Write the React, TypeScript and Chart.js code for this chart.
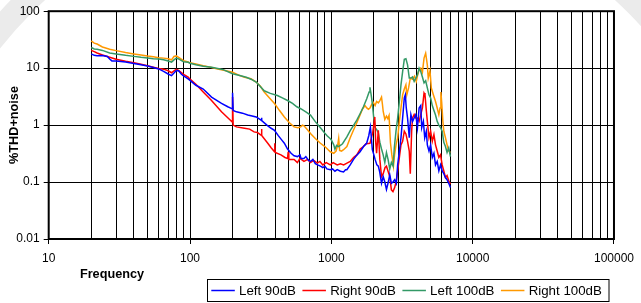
import { useEffect, useRef } from 'react';
import { Chart, registerables } from 'chart.js';

Chart.register(...registerables);

// ---- axis definitions ----
const xDecades = [10, 100, 1000, 10000, 100000];
const xTickLabels = ['10', '100', '1000', '10000', '100000'];
const xGridLines = [
  10, 20, 30, 40, 50, 60, 70, 80, 90,
  100, 200, 300, 400, 500, 600, 700, 800, 900,
  1000, 2000, 3000, 4000, 5000, 6000, 7000, 8000, 9000,
  10000, 20000, 30000, 40000, 50000, 60000, 70000, 80000, 90000,
  100000,
];
const yDecades = [0.01, 0.1, 1, 10, 100];
const yTickLabels = ['0.01', '0.1', '1', '10', '100'];

const xTitle = 'Frequency';
const yTitle = '%THD+noise';

const seriesLabels = ['Left 90dB', 'Right 90dB', 'Left 100dB', 'Right 100dB'];
const seriesColors = ['#0000FF', '#FF0000', '#339966', '#FF9900'];

// ---- data: [frequency Hz, %THD+noise] ----
const left90: [number, number][] = [
  [20, 17.8], [21, 16.8], [22, 16.5], [24, 16.6], [26, 16.0], [27, 14.5], [28, 13.4], [30, 13.4],
  [35, 12.8], [40, 12.1], [45, 11.5], [50, 10.9], [55, 10.3], [60, 9.7], [65, 8.8], [70, 7.9],
  [74, 7.4], [77, 8.2], [80, 9.1], [83, 9.0], [87, 7.8], [90, 7.3], [97, 6.5], [100, 6.1],
  [110, 5.0], [124, 4.3], [142, 3.1], [167, 2.4], [185, 2.1], [199, 1.93], [200, 3.7], [202, 1.8],
  [213, 1.71], [235, 1.62], [256, 1.5], [275, 1.45], [294, 1.39], [318, 1.22], [320, 1.35], [323, 1.2],
  [350, 1.0], [375, 0.88], [396, 0.81], [420, 0.66], [445, 0.55], [465, 0.48], [490, 0.38], [519, 0.32],
  [545, 0.29], [575, 0.28], [600, 0.3], [610, 0.26], [640, 0.26], [660, 0.28], [690, 0.24], [712, 0.23],
  [740, 0.25], [770, 0.21], [800, 0.2], [837, 0.19], [870, 0.18], [900, 0.19], [930, 0.17], [983, 0.165],
  [1020, 0.17], [1060, 0.155], [1100, 0.165], [1160, 0.155], [1220, 0.15], [1260, 0.165], [1288, 0.165],
  [1360, 0.2], [1436, 0.25], [1520, 0.3], [1597, 0.34], [1690, 0.42], [1778, 0.48], [1840, 0.65],
  [1890, 0.93], [1920, 0.6], [1950, 0.37], [2000, 0.3], [2040, 0.25], [2100, 0.2], [2150, 0.19],
  [2200, 0.15], [2265, 0.095], [2327, 0.125], [2390, 0.1], [2455, 0.074], [2530, 0.1], [2590, 0.135],
  [2660, 0.095], [2730, 0.1], [2806, 0.11], [2885, 0.095], [2946, 0.2], [3030, 0.35], [3110, 0.6],
  [3195, 1.33], [3283, 3.0], [3340, 3.4], [3390, 2.0], [3462, 1.33], [3560, 0.6], [3655, 1.53],
  [3755, 1.16], [3855, 1.33], [3960, 1.53], [4067, 0.9], [4180, 2.0], [4293, 2.2], [4360, 0.9],
  [4480, 1.16], [4580, 0.6], [4700, 0.78], [4778, 0.45], [4910, 0.35], [5043, 0.45], [5180, 0.27],
  [5320, 0.32], [5460, 0.2], [5612, 0.23], [5765, 0.157], [5925, 0.2], [6085, 0.157], [6250, 0.14],
  [6420, 0.12], [6590, 0.11], [6775, 0.095], [6960, 0.08],
];

const right90: [number, number][] = [
  [20, 20.5], [21, 19.5], [22, 18.5], [24, 17.0], [27, 15.5], [30, 14.3], [35, 13.2], [40, 12.5],
  [45, 11.7], [50, 11.0], [55, 10.4], [60, 9.9], [65, 9.6], [70, 9.0], [74, 8.3], [77, 9.0],
  [80, 9.5], [83, 9.1], [90, 7.8], [97, 6.95], [100, 6.4], [110, 5.2], [124, 3.8], [142, 2.7],
  [167, 1.71], [185, 1.35], [199, 1.13], [200, 3.1], [202, 1.0], [213, 0.93], [243, 0.88], [264, 0.85],
  [284, 0.76], [300, 0.74], [318, 0.67], [320, 0.85], [323, 0.66], [355, 0.48], [375, 0.4], [396, 0.34],
  [398, 0.48], [401, 0.33], [440, 0.3], [470, 0.27], [490, 0.26], [495, 0.34], [500, 0.25], [545, 0.25],
  [575, 0.22], [600, 0.26], [640, 0.23], [680, 0.25], [712, 0.22], [750, 0.24], [795, 0.215], [830, 0.23],
  [870, 0.2], [920, 0.22], [983, 0.2], [1030, 0.22], [1100, 0.2], [1160, 0.21], [1222, 0.2], [1290, 0.215],
  [1360, 0.23], [1436, 0.27], [1514, 0.3], [1600, 0.38], [1687, 0.42], [1760, 0.47], [1877, 0.48],
  [1960, 0.72], [2030, 1.39], [2060, 0.5], [2090, 0.32], [2150, 0.81], [2204, 0.25], [2265, 0.125],
  [2327, 0.14], [2400, 0.18], [2455, 0.19], [2530, 0.15], [2590, 0.125], [2660, 0.073], [2730, 0.068],
  [2806, 0.08], [2870, 0.1], [2946, 0.157], [3030, 0.27], [3110, 0.45], [3195, 0.52], [3283, 0.78],
  [3370, 0.7], [3462, 0.52], [3560, 0.35], [3620, 0.14], [3700, 0.78], [3755, 1.33], [3855, 1.53],
  [3960, 1.33], [4067, 1.33], [4180, 1.16], [4293, 1.53], [4410, 2.0], [4529, 3.65], [4600, 3.4],
  [4700, 1.8], [4778, 1.16], [4910, 0.6], [5043, 0.78], [5180, 0.52], [5320, 0.68], [5460, 0.45],
  [5612, 0.35], [5765, 0.27], [5925, 0.3], [6085, 0.2], [6250, 0.157], [6420, 0.12], [6590, 0.13],
  [6775, 0.105], [6960, 0.092],
];

const left100: [number, number][] = [
  [20, 23], [21, 21.7], [22, 21.5], [24, 20.5], [27, 18.5], [30, 17.8], [35, 16.8], [40, 16.1],
  [45, 15.5], [50, 15.1], [55, 14.6], [60, 14.5], [65, 14.0], [70, 13.3], [74, 12.8], [77, 14.0],
  [80, 15.0], [83, 14.5], [90, 13.0], [97, 12.7], [100, 12.2], [110, 11.5], [124, 10.8], [142, 10.4],
  [170, 9.5], [200, 8.0], [225, 7.4], [250, 6.9], [270, 6.4], [294, 5.7], [335, 4.0], [370, 3.6],
  [415, 3.3], [450, 3.0], [490, 2.7], [531, 2.4], [570, 2.1], [607, 1.94], [660, 1.7], [712, 1.5],
  [770, 1.15], [837, 0.9], [900, 0.72], [933, 0.65], [980, 0.58], [1000, 0.55], [1040, 0.45],
  [1060, 0.38], [1090, 0.44], [1120, 0.42], [1160, 0.44], [1200, 0.47], [1288, 0.62], [1360, 0.8],
  [1440, 1.0], [1514, 1.22], [1600, 1.6], [1687, 2.1], [1780, 2.9], [1850, 3.8], [1877, 4.6],
  [1910, 3.5], [1950, 2.4], [2000, 1.26], [2040, 0.9], [2090, 0.84], [2150, 0.73], [2204, 0.5],
  [2265, 0.38], [2327, 0.3], [2390, 0.22], [2455, 0.33], [2520, 0.25], [2590, 0.17], [2660, 0.22],
  [2735, 0.19], [2790, 0.4], [2870, 0.8], [2946, 1.33], [3030, 2.6], [3110, 5.1], [3195, 8.7],
  [3283, 14.3], [3370, 14.6], [3462, 11.4], [3560, 6.7], [3655, 6.7], [3755, 7.0], [3855, 5.85],
  [3960, 6.7], [4067, 7.6], [4180, 10], [4293, 8.7], [4410, 7.0], [4529, 5.5], [4650, 6.0],
  [4778, 4.5], [4910, 3.4], [5043, 3.0], [5180, 2.2], [5320, 1.8], [5460, 1.5], [5612, 1.16],
  [5765, 1.0], [5925, 0.9], [6085, 0.78], [6250, 0.5], [6420, 0.42], [6590, 0.33], [6775, 0.4],
  [6960, 0.28],
];

const right100: [number, number][] = [
  [20, 30], [21, 27.5], [22, 26.5], [24, 23.5], [27, 21.5], [30, 20.3], [35, 18.8], [40, 17.8],
  [45, 17.0], [50, 16.3], [55, 15.8], [60, 15.3], [65, 15.0], [70, 14.6], [74, 14.0], [77, 16.0],
  [80, 16.4], [83, 15.5], [90, 13.5], [97, 12.8], [100, 12.4], [110, 11.8], [124, 11.0], [142, 10.3],
  [154, 9.8], [170, 9.3], [200, 8.5], [225, 7.4], [243, 6.9], [270, 6.5], [294, 5.7], [315, 4.8],
  [335, 3.8], [365, 3.0], [396, 2.4], [430, 1.8], [465, 1.39], [505, 1.1], [545, 0.93], [580, 0.9],
  [607, 0.93], [625, 1.0], [640, 0.97], [680, 0.82], [712, 0.71], [770, 0.58], [837, 0.48], [900, 0.42],
  [983, 0.34], [1040, 0.32], [1080, 0.35], [1110, 0.45], [1127, 0.58], [1145, 0.36], [1180, 0.35],
  [1220, 0.37], [1288, 0.42], [1360, 0.6], [1436, 0.82], [1514, 1.1], [1597, 1.5], [1660, 1.9],
  [1730, 2.2], [1780, 2.0], [1830, 1.9], [1877, 2.0], [1930, 2.3], [1980, 2.5], [2040, 2.2],
  [2090, 2.6], [2150, 2.45], [2204, 2.7], [2265, 3.1], [2300, 2.3], [2327, 1.75], [2390, 1.26],
  [2455, 1.44], [2510, 1.3], [2560, 1.47], [2620, 0.49], [2680, 0.3], [2750, 0.19], [2800, 0.3],
  [2870, 0.45], [2946, 0.6], [3030, 1.16], [3110, 2.0], [3195, 3.4], [3283, 4.3], [3370, 5.1],
  [3420, 3.4], [3520, 4.5], [3620, 6.7], [3755, 6.4], [3880, 7.2], [3990, 5.85], [4100, 8.0],
  [4180, 9.3], [4293, 10], [4410, 8.5], [4529, 15], [4650, 18.3], [4778, 11.4], [4850, 6.7],
  [4990, 9.0], [5100, 4.47], [5270, 3.42], [5460, 2.6], [5612, 2.0], [5765, 1.53], [5880, 2.0],
  [5960, 3.8], [6040, 2.5], [6150, 1.2], [6250, 0.78], [6420, 0.6], [6590, 0.45], [6775, 0.35],
  [6960, 0.33],
];

const seriesData = [left90, right90, left100, right100];

const FONT = '"Liberation Sans", Arial, Helvetica, sans-serif';

const decorPlugin = {
  id: 'decor',
  beforeDraw(chart: any) {
    const { ctx, chartArea: a } = chart;
    ctx.save();
    ctx.fillStyle = '#ffffff';
    ctx.fillRect(0, 0, chart.width, chart.height);
    // faint watermark ring behind the chart
    ctx.strokeStyle = '#ebebeb';
    ctx.lineWidth = 24;
    ctx.beginPath();
    ctx.arc(330, 310, 433, 0, Math.PI * 2);
    ctx.stroke();
    ctx.fillStyle = '#ffffff';
    ctx.fillRect(a.left, a.top, a.right - a.left, a.bottom - a.top);
    ctx.restore();
  },
  afterDraw(chart: any) {
    const { ctx, chartArea: a } = chart;
    ctx.save();
    // plot frame
    ctx.strokeStyle = '#000';
    ctx.lineWidth = 2;
    ctx.strokeRect(a.left, a.top, a.right - a.left, a.bottom - a.top);

    // axis titles
    ctx.fillStyle = '#000';
    ctx.font = `bold 12.7px ${FONT}`;
    ctx.textAlign = 'center';
    ctx.textBaseline = 'middle';
    ctx.fillText(xTitle, 112, 274);
    ctx.save();
    ctx.translate(14, 125);
    ctx.rotate(-Math.PI / 2);
    ctx.fillText(yTitle, 0, 0);
    ctx.restore();

    // legend
    ctx.lineWidth = 1;
    ctx.strokeStyle = '#000';
    ctx.fillStyle = '#fff';
    ctx.fillRect(207.5, 279.5, 401.5, 22);
    ctx.strokeRect(207.5, 279.5, 401.5, 22);
    ctx.font = `13.3px ${FONT}`;
    ctx.textAlign = 'left';
    ctx.textBaseline = 'middle';
    let x = 211.3;
    const y = 290.5;
    chart.data.datasets.forEach((ds: any) => {
      ctx.strokeStyle = ds.borderColor;
      ctx.lineWidth = 1.5;
      ctx.beginPath();
      ctx.moveTo(x, y);
      ctx.lineTo(x + 23.5, y);
      ctx.stroke();
      ctx.fillStyle = '#000';
      ctx.fillText(ds.label, x + 27.7, y + 0.5);
      x += 27.7 + ctx.measureText(ds.label).width + 6.5;
    });
    ctx.restore();
  },
};

export default function App() {
  const ref = useRef<HTMLCanvasElement>(null);

  useEffect(() => {
    const canvas = ref.current;
    if (!canvas) return;
    const chart = new Chart(canvas, {
      type: 'line',
      data: {
        datasets: seriesData.map((s, i) => ({
          label: seriesLabels[i],
          data: s.map(([f, v]) => ({ x: f, y: v })),
          borderColor: seriesColors[i],
          backgroundColor: seriesColors[i],
          borderWidth: 1.5,
          pointRadius: 0,
          tension: 0,
          fill: false,
        })),
      },
      options: {
        responsive: false,
        animation: false,
        devicePixelRatio: 1,
        layout: { padding: { left: 0, right: 21.7, top: 10, bottom: 0 } },
        plugins: {
          legend: { display: false },
          tooltip: { enabled: false },
          title: { display: false },
        },
        scales: {
          x: {
            type: 'logarithmic',
            min: 10,
            max: 100000,
            afterBuildTicks: (scale: any) => {
              scale.ticks = xGridLines.map((v) => ({ value: v }));
            },
            afterFit: (scale: any) => {
              scale.height = 64;
            },
            ticks: {
              autoSkip: false,
              maxRotation: 0,
              minRotation: 0,
              padding: 7,
              color: '#000',
              font: { family: FONT, size: 12 },
              callback: (value: any) => {
                const i = xDecades.indexOf(Number(value));
                return i >= 0 ? xTickLabels[i] : '';
              },
            },
            grid: {
              color: '#000',
              lineWidth: 1,
              drawTicks: true,
              tickLength: 5,
              tickColor: (c: any) =>
                c.tick && xDecades.indexOf(c.tick.value) >= 0 ? '#000' : 'rgba(0,0,0,0)',
            },
            border: { display: false },
          },
          y: {
            type: 'logarithmic',
            min: 0.01,
            max: 100,
            afterBuildTicks: (scale: any) => {
              scale.ticks = yDecades.map((v) => ({ value: v }));
            },
            afterFit: (scale: any) => {
              scale.width = 48.7;
            },
            ticks: {
              autoSkip: false,
              padding: 4,
              color: '#000',
              font: { family: FONT, size: 12 },
              callback: (value: any) => {
                const i = yDecades.indexOf(Number(value));
                return i >= 0 ? yTickLabels[i] : '';
              },
            },
            grid: {
              color: '#000',
              lineWidth: 1,
              drawTicks: true,
              tickLength: 5,
              tickColor: '#000',
            },
            border: { display: false },
          },
        },
      } as any,
      plugins: [decorPlugin],
    });
    return () => chart.destroy();
  }, []);

  return (
    <div style={{ position: 'absolute', left: 0, top: 0, width: 641, height: 303, background: '#fff' }}>
      <canvas ref={ref} width={641} height={303} style={{ display: 'block', width: 641, height: 303 }} />
    </div>
  );
}
